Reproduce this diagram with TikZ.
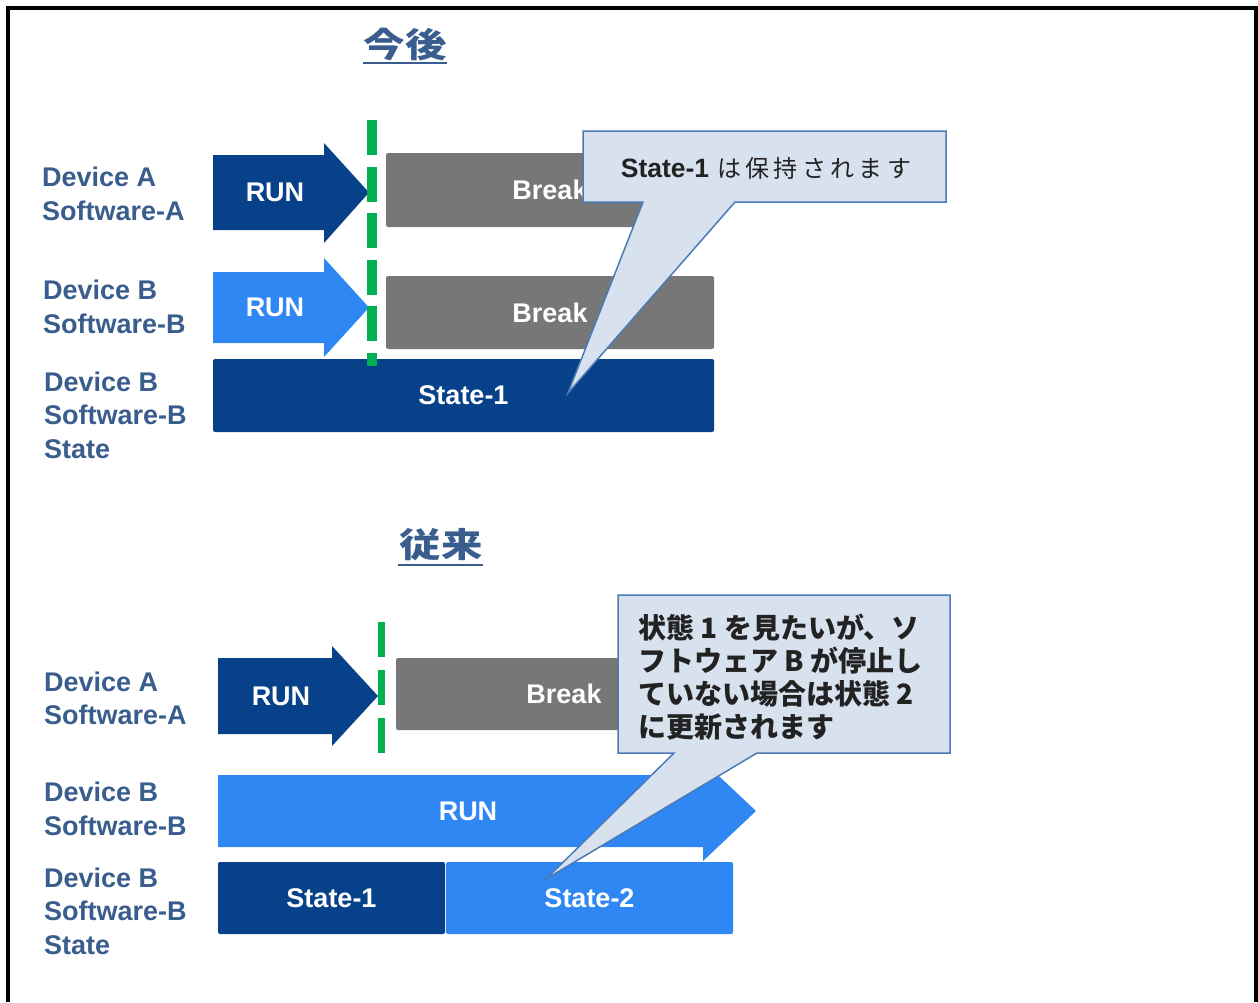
\documentclass[tikz,border=0pt]{standalone}
\usepackage{fontspec}
\setmainfont{Liberation Sans}
\newfontfamily\jp{Noto Sans CJK JP}
\newfontfamily\jpsp[LetterSpace=18]{Noto Sans CJK JP}
\definecolor{dblue}{HTML}{07418A}
\definecolor{lblue}{HTML}{2E87F2}
\definecolor{gbox}{HTML}{777777}
\definecolor{lblc}{HTML}{395D8D}
\definecolor{cfill}{HTML}{D8E1EE}
\definecolor{cline}{HTML}{4C7AB6}
\definecolor{grn}{HTML}{00B050}
\definecolor{ctxt}{HTML}{222222}
\tikzset{
  lbl/.style={font=\bfseries\fontsize{27}{33.5}\selectfont, text=lblc, align=left, anchor=west, inner sep=0pt},
  wtxt/.style={font=\bfseries\fontsize{27}{30}\selectfont, text=white, inner sep=0pt},
  boxn/.style={wtxt, rounded corners=2pt, minimum height=#1},
  boxn/.default=72pt,
  ttl/.style={font=\jp\bfseries\fontsize{34}{36}\selectfont, text=lblc, inner sep=0pt},
  uline/.style={draw=lblc, line width=2pt},
  gdash/.style={draw=grn, line width=#1},
  callout/.style={fill=cfill, draw=cline, line width=1.5pt, line join=miter},
  frame/.style={draw=black, line width=4pt}
}
\begin{document}
\begin{tikzpicture}[x=1pt,y=1pt]
\useasboundingbox (0,0) rectangle (1258,-1002);
% frame
\draw[frame] (7.5,-1002) -- (7.5,-7.5) -- (1255.5,-7.5) -- (1255.5,-1002);

% ===== top section =====
\node[ttl] (t1) at (405,-45) {\scalebox{1.22}[1]{今後}};
\draw[uline] (363,-63) -- (447,-63);

\node[lbl] (la1) at (42,-194) {Device A\\Software-A};
\node[lbl] (lb1) at (43,-307) {Device B\\Software-B};
\node[lbl] (ls1) at (44,-415) {Device B\\Software-B\\State};

% arrows
\fill[dblue] (213,-155) -- (324,-155) -- (324,-143) -- (369,-192.5) -- (324,-243) -- (324,-230) -- (213,-230) -- cycle;
\node[wtxt] (runA1) at (275,-192) {RUN};
\fill[lblue] (213,-272) -- (324,-272) -- (324,-258) -- (369,-307.5) -- (324,-357) -- (324,-343) -- (213,-343) -- cycle;
\node[wtxt] (runB1) at (275,-307) {RUN};

% boxes
\node[boxn=74pt, fill=gbox, minimum width=328pt] (brA1) at (550,-190) {Break};
\node[boxn=73pt, fill=gbox, minimum width=328pt] (brB1) at (550,-312.5) {Break};
\node[boxn=73pt, fill=dblue, minimum width=501pt] (st1) at (463.5,-395.5) {State-1};

% green dashed
\draw[gdash=10pt, dash pattern=on 35pt off 11.5pt] (372,-120) -- (372,-366);

% callout 1
\draw[callout] (583,-131) -- (946,-131) -- (946,-202) -- (735,-202) -- (568,-393) -- (643,-202) -- (583,-202) -- cycle;
\node[inner sep=0pt, text=ctxt] (c1t) at (766,-168) {{\bfseries\fontsize{26.5}{30}\selectfont State-1}\hspace{8pt}{\jpsp\fontsize{24}{28}\selectfont は保持されます}};

% ===== bottom section =====
\node[ttl] (t2) at (441,-545) {\scalebox{1.22}[1]{従来}};
\draw[uline] (398,-565) -- (483,-565);

\node[lbl] (la2) at (44,-698.5) {Device A\\Software-A};
\node[lbl] (lb2) at (44,-809) {Device B\\Software-B};
\node[lbl] (ls2) at (44,-911) {Device B\\Software-B\\State};

\fill[dblue] (218,-658) -- (332,-658) -- (332,-646) -- (378,-696) -- (332,-746) -- (332,-734) -- (218,-734) -- cycle;
\node[wtxt] (runA2) at (281,-696) {RUN};

\node[boxn=72pt, fill=gbox, minimum width=336pt] (brA2) at (564,-694) {Break};

\draw[gdash=7pt, dash pattern=on 35pt off 13pt] (381,-622) -- (381,-753);

\fill[lblue] (218,-775) -- (703,-775) -- (703,-761) -- (756,-811) -- (703,-861) -- (703,-847) -- (218,-847) -- cycle;
\node[wtxt] (runB2) at (468,-811) {RUN};

\node[boxn=72pt, fill=dblue, minimum width=227pt] (st1b) at (331.5,-898) {State-1};
\node[boxn=72pt, fill=lblue, minimum width=287pt] (st2b) at (589.5,-898) {State-2};

% callout 2
\draw[callout] (618,-595) -- (950,-595) -- (950,-753) -- (757,-753) -- (546,-879) -- (674,-753) -- (618,-753) -- cycle;
\node[inner sep=0pt, text=ctxt, align=left, anchor=north west, font=\jp\bfseries\fontsize{28}{33}\selectfont] (c2t) at (638,-614) {状態 1 を見たいが、ソ\\フトウェア B が停止し\\ていない場合は状態 2\\に更新されます};
\end{tikzpicture}
\end{document}
